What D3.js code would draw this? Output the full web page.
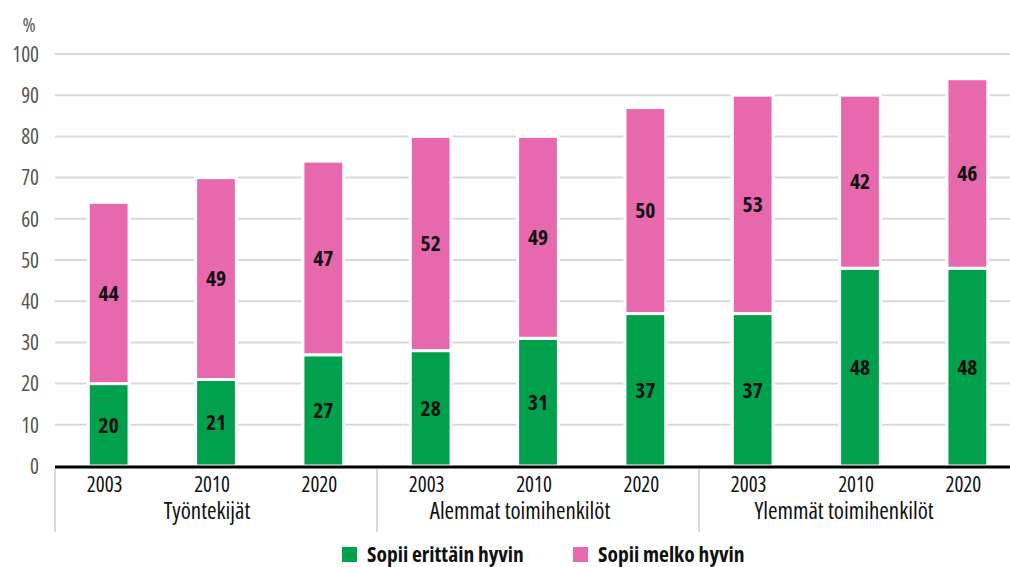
<!DOCTYPE html>
<html>
<head>
<meta charset="utf-8">
<script src="https://cdn.jsdelivr.net/npm/d3@7/dist/d3.min.js"></script>
<style>
  html, body { margin: 0; padding: 0; background: #fff; }
  svg { display: block; font-family: "Open Sans", sans-serif; font-stretch: condensed; }
  svg text { font-stretch: condensed; }
</style>
</head>
<body>
<svg id="chart" width="1010" height="567"></svg>
<script>
// Share of respondents (%) by staff group and survey year
const groups = ["Työntekijät", "Alemmat toimihenkilöt", "Ylemmät toimihenkilöt"];
const years = ["2003", "2010", "2020"];
const seriesNames = ["Sopii erittäin hyvin", "Sopii melko hyvin"];
const veryWell = [20, 21, 27, 28, 31, 37, 37, 48, 48];
const fairlyWell = [44, 49, 47, 52, 49, 50, 53, 42, 46];
const yTicks = [0, 10, 20, 30, 40, 50, 60, 70, 80, 90, 100];
const colors = ["#00a04d", "#e868ad"];

// Layout
const svg = d3.select("#chart");
const plotLeft = 55, plotRight = 1021, plotTop = 54, plotBottom = 466;
const groupLabelShift = [-9, -18, -16];
const yearLabelShift = -4;

const cats = [];
groups.forEach((g, gi) => years.forEach((yr) => cats.push({ key: gi + "-" + yr, group: g, year: yr })));
const rows = cats.map((c, i) => ({ ...c, v0: veryWell[i], v1: fairlyWell[i] }));

const x = d3.scaleBand().domain(cats.map(c => c.key)).range([plotLeft, plotRight]).paddingInner(0.62).paddingOuter(0.31);
const y = d3.scaleLinear().domain([0, 100]).range([plotBottom, plotTop]);

// Gridlines
svg.append("g").selectAll("line").data(yTicks.filter(t => t > 0)).join("line")
  .attr("x1", plotLeft).attr("x2", plotRight)
  .attr("y1", d => y(d)).attr("y2", d => y(d))
  .attr("stroke", "#d9d9d9").attr("stroke-width", 2);

// Y axis labels
const yAxis = d3.axisLeft(y).tickValues(yTicks).tickSize(0).tickPadding(0);
const ya = svg.append("g").attr("transform", "translate(39,0)").call(yAxis);
ya.select(".domain").remove();
ya.attr("font-family", null).attr("font-size", null);
ya.selectAll("text").attr("font-size", 21).attr("fill", "#555")
  .attr("dy", "0.35em").attr("text-anchor", "end");
svg.append("text").attr("x", 29).attr("y", 25).attr("dy", "0.35em").attr("text-anchor", "middle")
  .attr("font-size", 20).attr("fill", "#555").text("%");

// Stacked bars
const stack = d3.stack().keys(["v0", "v1"])(rows);
const layer = svg.append("g").selectAll("g").data(stack).join("g").attr("fill", (d, i) => colors[i]);
layer.selectAll("rect").data(d => d).join("rect")
  .attr("x", d => x(d.data.key))
  .attr("width", x.bandwidth())
  .attr("y", d => y(d[1]))
  .attr("height", d => y(d[0]) - y(d[1]))
  .attr("stroke", "#fff").attr("stroke-width", 3);

// Value labels
layer.selectAll("text").data(d => d).join("text")
  .attr("x", d => x(d.data.key) + x.bandwidth() / 2)
  .attr("y", d => (y(d[0]) + y(d[1])) / 2)
  .attr("dy", "0.36em").attr("text-anchor", "middle")
  .attr("font-size", 21.5).attr("font-weight", "bold").attr("fill", "#111")
  .text(d => d[1] - d[0]);

// X axis baseline
svg.append("line").attr("x1", plotLeft).attr("x2", plotRight).attr("y1", plotBottom + 1).attr("y2", plotBottom + 1)
  .attr("stroke", "#000").attr("stroke-width", 3);

// Year labels
svg.append("g").selectAll("text").data(cats).join("text")
  .attr("x", d => x(d.key) + x.bandwidth() / 2 + yearLabelShift).attr("y", 484.5).attr("dy", "0.35em")
  .attr("text-anchor", "middle").attr("font-size", 21).attr("fill", "#111")
  .text(d => d.year);

// Group labels and separators
const step = x.step();
groups.forEach((g, gi) => {
  const x0 = plotLeft + gi * 3 * step;
  svg.append("line").attr("x1", x0).attr("x2", x0).attr("y1", plotBottom + 3).attr("y2", 532)
    .attr("stroke", "#d9d9d9").attr("stroke-width", 2);
  svg.append("text").attr("x", x0 + 1.5 * step + groupLabelShift[gi]).attr("y", 511).attr("dy", "0.35em")
    .attr("text-anchor", "middle").attr("font-size", 23).attr("fill", "#111").text(g);
});

// Legend
const legend = svg.append("g").selectAll("g").data(seriesNames).join("g")
  .attr("transform", (d, i) => `translate(${[342, 573][i]},547)`);
legend.append("rect").attr("width", 15).attr("height", 15).attr("fill", (d, i) => colors[i]);
legend.append("text").attr("x", 25).attr("y", 15)
  .attr("font-size", 21.5).attr("font-weight", "bold").attr("fill", "#111").text(d => d);
</script>
</body>
</html>
